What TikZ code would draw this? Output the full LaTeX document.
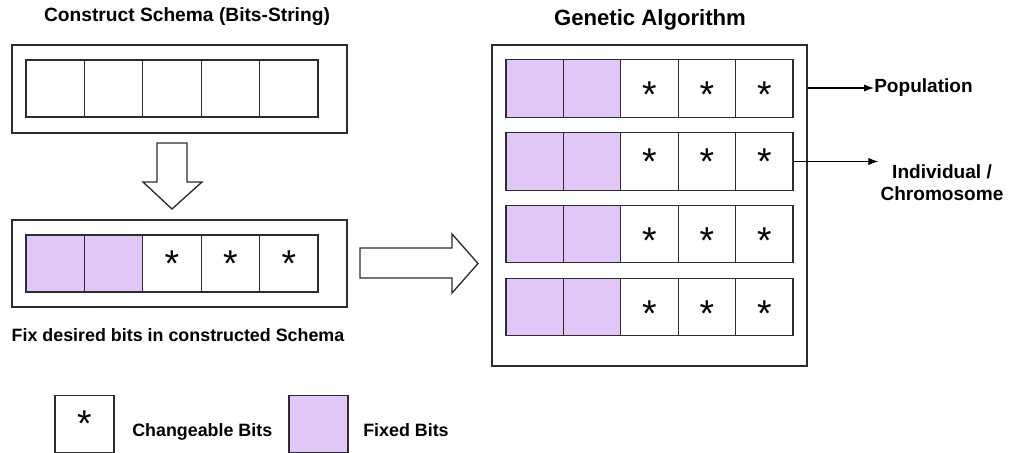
\documentclass[tikz,border=0pt]{standalone}
\usepackage{fontspec}
\setmainfont{Liberation Sans}
\usetikzlibrary{positioning,arrows.meta}
\definecolor{fixedbit}{RGB}{224,199,248}
\definecolor{edgegray}{RGB}{45,45,45}
\newcommand{\gastar}{\raisebox{-4.5pt}[0.72em][0pt]{*}}

\begin{document}
\begin{tikzpicture}[x=0.75pt, y=-0.75pt,
  schemabit/.style={draw=edgegray, line width=1pt, inner sep=0pt, minimum width=43.8pt, minimum height=42.75pt, font=\fontsize{28}{28}\selectfont},
  gabit/.style={schemabit, minimum width=43.05pt, minimum height=43.1pt},
  fixed/.style={fill=fixedbit},
  framebox/.style={draw=edgegray, line width=1pt, inner sep=0pt},
  headtext/.style={font=\bfseries\fontsize{14.4}{17}\selectfont},
  smalltext/.style={font=\bfseries\fontsize{13.4}{16.5}\selectfont, inner sep=1.5pt},
  sidetext/.style={font=\bfseries\fontsize{14.3}{16.5}\selectfont, inner sep=1.5pt},
  bigarrow/.style={draw=edgegray, line width=1pt, fill=white},
  thinarrow/.style={draw=black, line width=0.8pt, -{Latex[length=7.5pt,width=5.5pt]}}]

\useasboundingbox (0,0) rectangle (1010,453);

% titles
\node[headtext] at (187, 17) (schematitle) {Construct Schema (Bits-String)};
\node[headtext, font=\bfseries\fontsize{16.6}{19}\selectfont] at (650, 20) (gatitle) {Genetic Algorithm};

% schema frames
\node[framebox, minimum width=251.25pt, minimum height=66pt] at (179.5, 89) (schemaframe) {};
\node[framebox, minimum width=251.25pt, minimum height=65.25pt] at (179.5, 263.5) (fixframe) {};

\node[schemabit] at (55.2, 88.5) (sch1) {};
\node[schemabit] at (113.6, 88.5) (sch2) {};
\node[schemabit] at (172.0, 88.5) (sch3) {};
\node[schemabit] at (230.4, 88.5) (sch4) {};
\node[schemabit] at (288.8, 88.5) (sch5) {};

\node[schemabit, fixed] at (55.2, 263.5) (fix1) {};
\node[schemabit, fixed] at (113.6, 263.5) (fix2) {};
\node[schemabit] at (172.0, 263.5) (fix3) {*};
\node[schemabit] at (230.4, 263.5) (fix4) {*};
\node[schemabit] at (288.8, 263.5) (fix5) {*};

\node[smalltext] at (178, 335) (fixcaption) {Fix desired bits in constructed Schema};

% hollow arrows
\draw[bigarrow] (157, 143) -- (187, 143) -- (187, 182) -- (202, 182) -- (172, 209) -- (143, 182) -- (157, 182) -- cycle;
\draw[bigarrow] (360, 248) -- (452, 248) -- (452, 234) -- (478, 263.5) -- (452, 293) -- (452, 278) -- (360, 278) -- cycle;

% genetic algorithm population
\node[framebox, minimum width=236.25pt, minimum height=240.75pt] at (649.5, 205.5) (gaframe) {};

\node[gabit, fixed] at (534.7, 88.5) (ga1c1) {};
\node[gabit, fixed] at (592.1, 88.5) (ga1c2) {};
\node[gabit] at (649.5, 88.5) (ga1c3) {\gastar};
\node[gabit] at (706.9, 88.5) (ga1c4) {\gastar};
\node[gabit] at (764.3, 88.5) (ga1c5) {\gastar};

\node[gabit, fixed] at (534.7, 161.5) (ga2c1) {};
\node[gabit, fixed] at (592.1, 161.5) (ga2c2) {};
\node[gabit] at (649.5, 161.5) (ga2c3) {*};
\node[gabit] at (706.9, 161.5) (ga2c4) {*};
\node[gabit] at (764.3, 161.5) (ga2c5) {*};

\node[gabit, fixed] at (534.7, 234) (ga3c1) {};
\node[gabit, fixed] at (592.1, 234) (ga3c2) {};
\node[gabit] at (649.5, 234) (ga3c3) {\gastar};
\node[gabit] at (706.9, 234) (ga3c4) {\gastar};
\node[gabit] at (764.3, 234) (ga3c5) {\gastar};

\node[gabit, fixed] at (534.7, 307) (ga4c1) {};
\node[gabit, fixed] at (592.1, 307) (ga4c2) {};
\node[gabit] at (649.5, 307) (ga4c3) {\gastar};
\node[gabit] at (706.9, 307) (ga4c4) {\gastar};
\node[gabit] at (764.3, 307) (ga4c5) {\gastar};

\node[sidetext, anchor=west, inner sep=0pt] at (874, 88) (poplabel) {Population};
\node[sidetext, align=center] at (942, 183) (indlabel) {Individual /\\Chromosome};

\draw[thinarrow] (gaframe.east |- poplabel.west) -- (poplabel.west);
\draw[thinarrow] (ga2c5.east) -- (ga2c5.east -| indlabel.west);

% legend
\node[schemabit, minimum width=44.25pt] at (84.5, 424) (freekey) {*};
\node[smalltext, anchor=base west, inner sep=0pt] at (132, 436) (freetext) {Changeable Bits};
\node[schemabit, fixed, minimum width=44.25pt] at (318.5, 424) (fixkey) {};
\node[smalltext, anchor=base west, inner sep=0pt] at (363, 436) (fixtext) {Fixed Bits};

\end{tikzpicture}
\end{document}
